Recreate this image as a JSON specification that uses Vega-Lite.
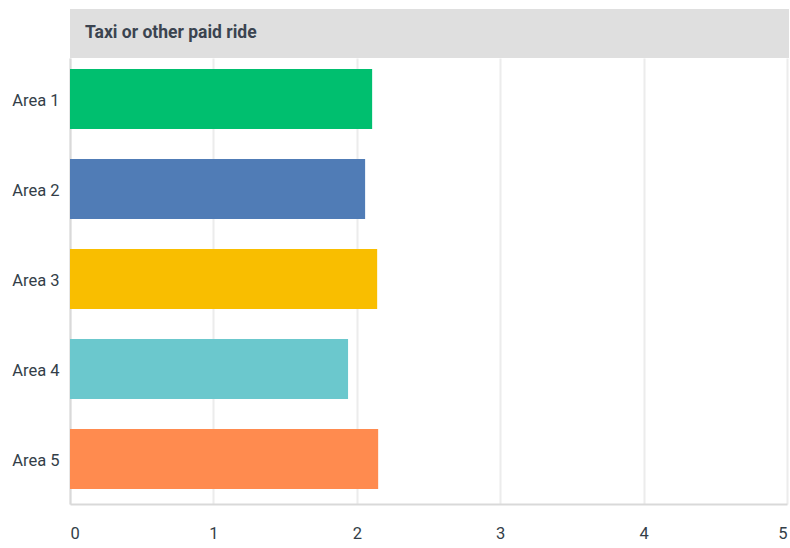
{
  "$schema": "https://vega.github.io/schema/vega-lite/v6.json",
  "padding": {"left": 11, "top": 9, "right": 0, "bottom": 5},
  "background": "white",
  "config": {
    "font": "Roboto",
    "view": {"stroke": null},
    "concat": {"spacing": 0}
  },
  "vconcat": [
    {
      "width": 719,
      "height": 49,
      "view": {"fill": "#dfdfdf", "stroke": null},
      "data": {"values": [{"label": "Taxi or other paid ride"}]},
      "mark": {"type": "text", "align": "left", "baseline": "middle", "fontWeight": "bold", "fontSize": 17.5, "color": "#3b4450", "font": "Roboto"},
      "encoding": {
        "text": {"field": "label"},
        "x": {"value": 15},
        "y": {"value": 24}
      }
    },
    {
      "width": 717,
      "height": 446,
      "data": {
        "values": [
          {"area": "Area 1", "value": 2.107},
          {"area": "Area 2", "value": 2.058},
          {"area": "Area 3", "value": 2.142},
          {"area": "Area 4", "value": 1.939},
          {"area": "Area 5", "value": 2.149}
        ]
      },
      "mark": {"type": "bar"},
      "encoding": {
        "y": {
          "field": "area", "type": "nominal", "sort": null,
          "scale": {"paddingInner": 0.3333, "paddingOuter": 0.144, "align": 0.423},
          "axis": {"title": null, "ticks": false, "domain": true, "domainColor": "#d9d9d9", "domainWidth": 2,
                   "labelFontSize": 16.5, "labelColor": "#333e48", "labelPadding": 11, "labelFont": "Roboto", "labelOffset": 2}
        },
        "x": {
          "field": "value", "type": "quantitative",
          "scale": {"domain": [0, 5], "nice": false},
          "axis": {"title": null, "values": [0, 1, 2, 3, 4, 5], "ticks": false, "labelOverlap": false,
                   "domainColor": "#d9d9d9", "domainWidth": 2,
                   "grid": true, "gridColor": "#ececec", "gridWidth": 2,
                   "labelFontSize": 16.5, "labelColor": "#333e48", "labelPadding": 21, "labelFlush": true, "labelFont": "Roboto"}
        },
        "color": {
          "field": "area", "type": "nominal", "legend": null,
          "scale": {"domain": ["Area 1", "Area 2", "Area 3", "Area 4", "Area 5"],
                    "range": ["#00bf6f", "#507cb6", "#f9be00", "#6bc8cd", "#ff8b4f"]}
        }
      }
    }
  ]
}
